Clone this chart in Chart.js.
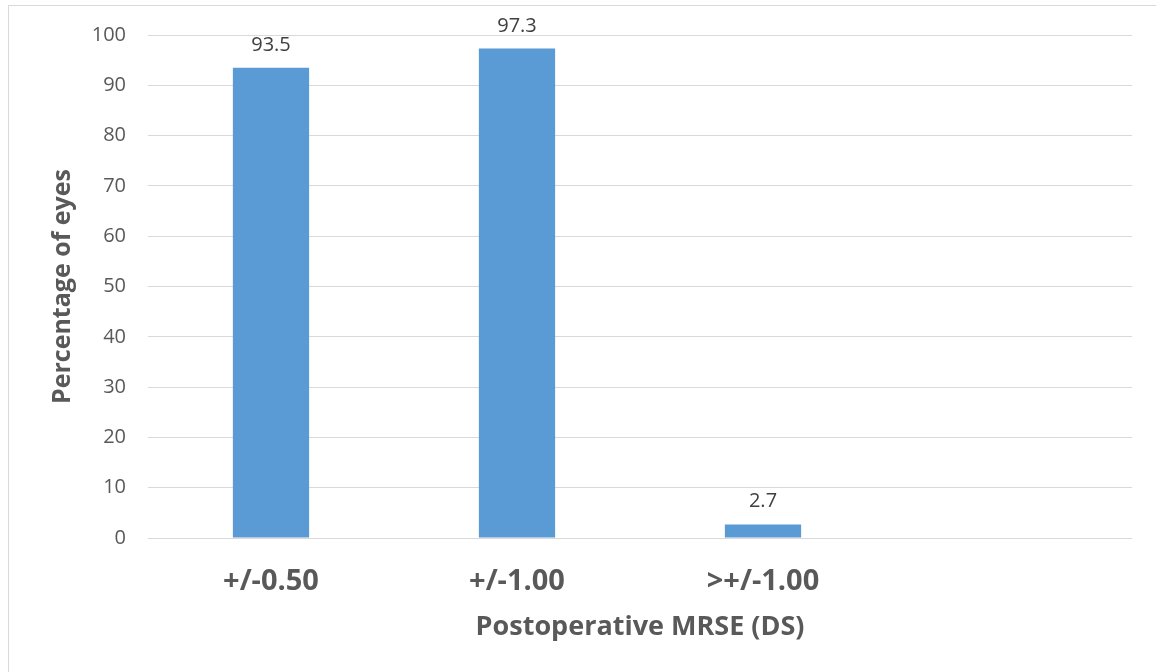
<!DOCTYPE html>
<html>
<head>
<meta charset="utf-8">
<script src="https://cdn.jsdelivr.net/npm/chart.js@4.4.1/dist/chart.umd.min.js"></script>
<style>
  html, body { margin: 0; padding: 0; background: #ffffff; }
  #wrap { position: relative; width: 1156px; height: 672px; overflow: hidden; }
  #frame { position: absolute; left: 8px; top: 5px; width: 1200px; height: 700px;
           border-left: 1px solid #d9d9d9; border-top: 1px solid #d9d9d9; box-sizing: border-box; }
  canvas { position: absolute; left: 0; top: 0; }
</style>
</head>
<body>
<div id="wrap">
  <div id="frame"></div>
  <canvas id="c" width="1156" height="672"></canvas>
</div>
<script>
const categories = ['+/-0.50', '+/-1.00', '>+/-1.00', ''];
const percentages = [93.5, 97.3, 2.7, null];
const yTicks = [0, 10, 20, 30, 40, 50, 60, 70, 80, 90, 100];

const FONT = "'Open Sans', 'Liberation Sans', sans-serif";

const valueLabels = {
  id: 'valueLabels',
  afterDatasetsDraw(chart) {
    const ctx = chart.ctx;
    const meta = chart.getDatasetMeta(0);
    ctx.save();
    ctx.font = "20px " + FONT;
    ctx.fillStyle = '#404040';
    ctx.textAlign = 'center';
    ctx.textBaseline = 'alphabetic';
    meta.data.forEach((bar, i) => {
      const v = percentages[i];
      if (v === null || v === undefined) return;
      ctx.fillText(String(v), bar.x, bar.y - 17);
    });
    ctx.restore();
  }
};

new Chart(document.getElementById('c'), {
  type: 'bar',
  data: {
    labels: categories,
    datasets: [{
      data: percentages,
      backgroundColor: '#5b9bd5',
      borderWidth: 0,
      barPercentage: 0.31,
      categoryPercentage: 1.0
    }]
  },
  options: {
    responsive: false,
    animation: false,
    devicePixelRatio: 1,
    layout: { padding: { left: 48, top: 35, right: 24, bottom: 0 } },
    plugins: { legend: { display: false }, tooltip: { enabled: false } },
    scales: {
      x: {
        grid: { display: false },
        border: { display: false },
        ticks: {
          color: '#595959',
          font: { family: FONT, size: 29, weight: 'bold' },
          padding: 18,
          maxRotation: 0
        },
        title: {
          display: true,
          text: 'Postoperative MRSE (DS)',
          color: '#595959',
          font: { family: FONT, size: 27, weight: 'bold' },
          padding: { top: 0, bottom: 28 }
        },
        afterFit(scale) { scale.height = 672 - 538; }
      },
      y: {
        min: 0,
        max: 100,
        afterBuildTicks(scale) { scale.ticks = yTicks.map(v => ({ value: v })); },
        grid: { color: '#d9d9d9', lineWidth: 1, drawTicks: false },
        border: { display: false },
        ticks: {
          color: '#595959',
          font: { family: FONT, size: 20 },
          padding: 22
        },
        title: {
          display: true,
          text: 'Percentage of eyes',
          color: '#595959',
          font: { family: FONT, size: 25, weight: 'bold' },
          padding: { top: 0, bottom: 0 }
        },
        afterFit(scale) { scale.width = 148 - 48; }
      }
    }
  },
  plugins: [valueLabels]
});
</script>
</body>
</html>
